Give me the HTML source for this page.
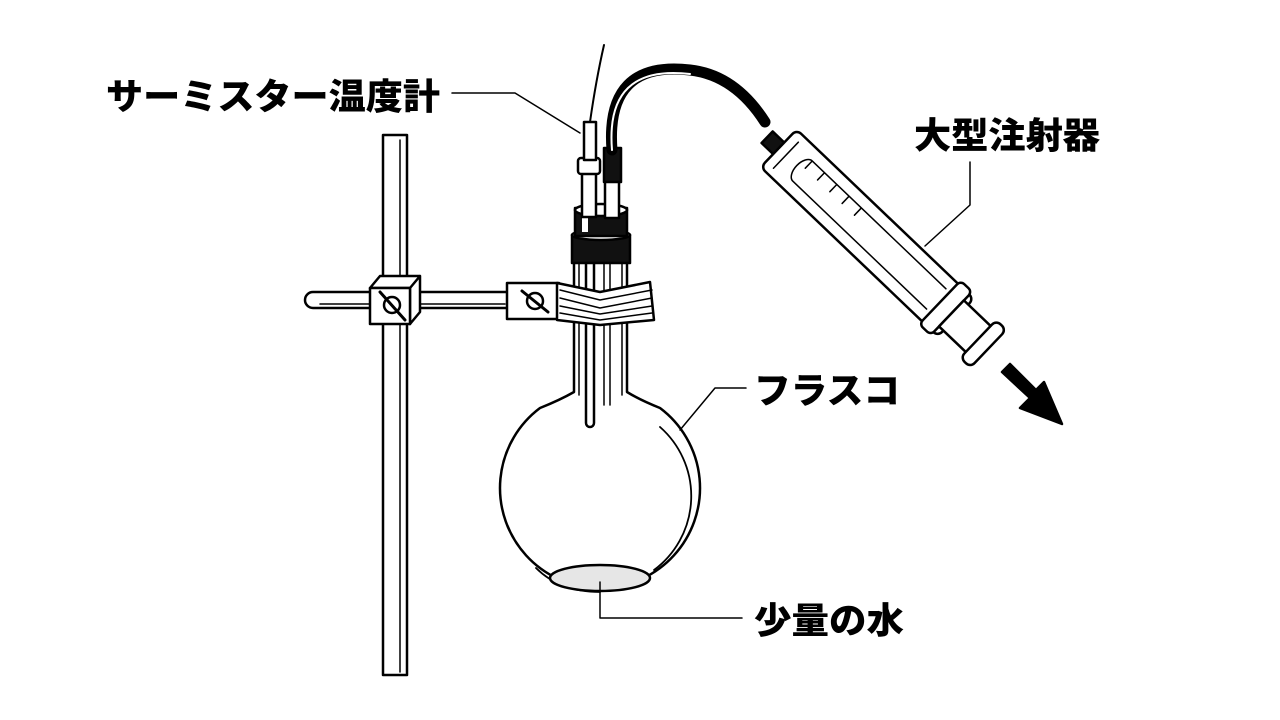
<!DOCTYPE html>
<html><head><meta charset="utf-8"><style>
html,body{margin:0;padding:0;background:#fff;width:1280px;height:720px;overflow:hidden}
svg{display:block}
text{font-family:"Liberation Sans","Noto Sans CJK JP",sans-serif;font-weight:900;font-size:36px;fill:#000}
</style></head><body>
<svg width="1280" height="720" viewBox="0 0 1280 720" fill="none" stroke="#000" stroke-width="2.5" stroke-linejoin="round" stroke-linecap="round">
<rect x="383" y="135" width="24" height="540" fill="#fff"/>
<line x1="400" y1="140" x2="400" y2="672" stroke-width="1.5"/>
<path d="M510 292 H313 a8 8 0 0 0 0 16 H510" fill="#fff"/>
<line x1="320" y1="304" x2="505" y2="304" stroke-width="1.5"/>
<path d="M370 288 l10 -12 h40 l-10 12 z M410 288 l10 -12 v36 l-10 12 z" fill="#fff"/>
<rect x="370" y="288" width="40" height="36" fill="#fff"/>
<circle cx="392" cy="305" r="8"/>
<line x1="380" y1="292" x2="405" y2="320" stroke-width="3"/>
<path d="M574 258 V392 Q560 400 540 408 A100 100 0 1 0 660 408 Q640 400 627 392 V258" fill="#fff"/>
<path d="M660 427 A92 92 0 0 1 654 570 M536 568 Q560 592 600 592" stroke-width="1.8"/>
<line x1="579" y1="260" x2="579" y2="395" stroke-width="1.5"/>
<line x1="622" y1="260" x2="622" y2="395" stroke-width="1.5"/>
<path d="M586 255 V423 a4 4 0 0 0 8 0 V255" fill="#fff"/>
<path d="M604 255 V405 M610 255 V405" stroke-width="1.5"/>
<ellipse cx="600" cy="578" rx="50" ry="13" fill="#e6e6e6"/>
<rect x="507" y="283" width="52" height="36" fill="#fff"/>
<circle cx="535" cy="301" r="8"/>
<line x1="522" y1="291" x2="548" y2="312" stroke-width="3"/>
<path d="M557 283 L600 292 L650 282 L654 320 L600 325 L557 320 z" fill="#fff"/>
<path d="M560 290 L600 300 L652 290 M560 298 L600 308 L652 298 M560 306 L600 314 L652 306 M560 313 L600 320 L652 313" stroke-width="1.5"/>
<rect x="572" y="235" width="58" height="28" fill="#111"/>
<ellipse cx="601" cy="235" rx="29" ry="5" fill="#fff"/>
<path d="M575 208 h52 v28 h-52 z" fill="#111"/>
<ellipse cx="601" cy="210" rx="26" ry="6" fill="#fff"/>
<rect x="582" y="210" width="6" height="22" fill="#fff" stroke="none"/>
<rect x="582" y="160" width="14" height="57" fill="#fff"/>
<rect x="578" y="158" width="22" height="16" rx="3" fill="#fff"/>
<rect x="584" y="122" width="12" height="38" fill="#fff"/>
<path d="M590 122 Q596 80 604 45" stroke-width="2"/>
<rect x="605" y="178" width="14" height="40" fill="#fff"/>
<rect x="604" y="148" width="17" height="34" fill="#111"/>
<path d="M612 150 Q605 60 690 70 Q735 75 765 122" stroke-width="11"/>
<path d="M612 150 Q605 64 690 74" stroke="#fff" stroke-width="2"/>
<g transform="translate(770,140) rotate(43.7)">
<rect x="-4" y="-8" width="18" height="16" fill="#111"/>
<rect x="12" y="-26" width="245" height="52" rx="6" fill="#fff"/>
<path d="M22 -18 V18 M45 -14 H230 M45 14 H230 M45 -14 a8 14 0 0 0 0 28 M45 -4 v-10 M62 -4 v-10 M79 -4 v-10 M96 -4 v-10 M113 -4 v-10" stroke-width="1.5"/>
<rect x="235" y="-30" width="16" height="60" rx="5" fill="#fff"/>
<rect x="251" y="-18" width="40" height="36" fill="#fff"/>
<rect x="288" y="-26" width="14" height="52" rx="6" fill="#fff"/>
</g>
<path d="M1002 372 L1030 398 L1020 408 L1062 424 L1044 382 L1036 390 L1010 364 z" fill="#000"/>
<path d="M452 93 H515 L580 133" stroke-width="1.5"/>
<path d="M970 162 V205 L925 246" stroke-width="1.5"/>
<path d="M746 388 H715 L680 430" stroke-width="1.5"/>
<path d="M600 582 V618 H742" stroke-width="1.5"/>
<g stroke="none">
<text x="106" y="109" textLength="334" lengthAdjust="spacingAndGlyphs">サーミスター温度計</text>
<text x="914" y="148" textLength="186" lengthAdjust="spacingAndGlyphs">大型注射器</text>
<text x="754" y="403" textLength="146" lengthAdjust="spacingAndGlyphs">フラスコ</text>
<text x="754" y="633" textLength="150" lengthAdjust="spacingAndGlyphs">少量の水</text>
</g>
</svg>
</body></html>
